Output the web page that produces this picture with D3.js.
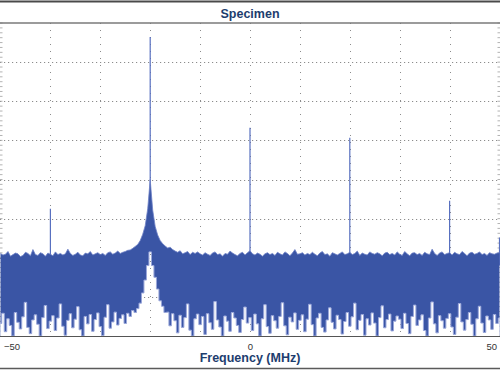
<!DOCTYPE html>
<html><head><meta charset="utf-8">
<script src="https://cdn.jsdelivr.net/npm/d3@7"></script>
<style>html,body{margin:0;padding:0;background:#fff;}svg{display:block;}</style>
</head><body>
<svg id="chart" width="500" height="370"></svg>
<script>
const titleText = "Specimen";
const xLabel = "Frequency (MHz)";
const freqStart = -50, freqStep = 0.5;
const xTicks = [-50, 0, 50];
const xGrid = [-40, -30, -20, -10, 0, 10, 20, 30, 40];
const yGrid = [-10, -20, -30, -40, -50, -60, -70];
// max-hold envelope (dB), one value per 0.5 MHz from -50 to 50
const maxEnv = [
-58.9,-59.3,-59.1,-58.4,-59.6,-59.2,-58.8,-59.0,-59.7,-59.4,-58.6,-58.9,-59.5,-57.9,-59.2,-59.4,-58.7,-59.0,-59.6,-58.8,
-59.1,-59.5,-58.5,-59.2,-58.9,-59.3,-59.0,-57.8,-58.9,-59.4,-59.1,-58.6,-59.3,-59.5,-58.8,-59.0,-58.4,-59.3,-59.0,-58.7,
-59.2,-58.9,-59.4,-58.7,-58.5,-59.1,-58.8,-58.3,-58.9,-58.6,-58.4,-58.1,-58.0,-57.6,-57.1,-56.6,-55.6,-54.0,-51.8,-47.5,
-40.0,-47.8,-52.0,-54.2,-55.6,-56.4,-57.0,-57.5,-57.3,-57.9,-58.3,-58.6,-58.2,-59.0,-58.7,-58.4,-59.2,-58.6,-58.9,-58.5,
-59.0,-59.3,-58.7,-59.1,-59.4,-58.8,-58.5,-59.2,-59.0,-59.6,-58.9,-59.1,-58.3,-58.8,-59.2,-59.5,-58.9,-58.6,-59.3,-58.7,
-58.2,-59.0,-59.3,-58.8,-59.1,-59.6,-59.0,-58.7,-59.2,-58.9,-59.4,-58.6,-59.0,-59.3,-58.5,-58.9,-59.5,-58.8,-57.9,-59.1,
-59.0,-58.7,-59.3,-58.9,-59.2,-58.6,-59.1,-59.5,-58.8,-58.4,-59.2,-59.0,-59.6,-58.7,-59.0,-59.3,-58.9,-58.5,-59.2,-59.0,
-58.6,-59.2,-58.9,-58.3,-59.4,-58.8,-59.1,-59.3,-58.5,-58.9,-59.1,-58.7,-59.0,-59.5,-58.8,-58.6,-59.2,-58.9,-59.3,-58.5,
-59.1,-59.4,-58.4,-59.0,-59.5,-58.8,-58.7,-59.2,-58.9,-59.4,-58.6,-59.0,-59.2,-57.8,-58.9,-59.4,-58.8,-58.5,-59.2,-58.9,
-58.7,-59.3,-58.6,-59.0,-59.2,-58.4,-58.9,-59.5,-58.8,-58.6,-59.1,-58.9,-58.5,-59.2,-58.9,-59.4,-58.7,-59.0,-59.1,-58.8,-58.7
];
// min-hold envelope (dB), same grid
const minEnv = [
-76.8,-74.2,-78.9,-75.6,-77.3,-80.0,-74.0,-76.5,-78.2,-75.1,-71.4,-77.8,-79.4,-75.9,-74.6,-77.0,-80.0,-75.3,-72.2,-78.1,
-76.2,-74.8,-78.6,-75.4,-71.8,-77.5,-79.8,-76.0,-74.3,-77.9,-75.7,-72.5,-78.4,-80.0,-75.0,-76.9,-74.5,-78.8,-75.8,-74.1,
-77.6,-79.9,-75.2,-72.0,-78.0,-76.4,-73.9,-77.2,-75.5,-74.6,-76.8,-74.2,-75.0,-73.5,-74.0,-73.0,-71.6,-69.0,-65.7,-62.0,
-58.5,-62.0,-65.0,-68.0,-71.0,-72.4,-74.0,-73.9,-77.4,-74.3,-76.1,-79.2,-74.7,-77.8,-75.3,-71.8,-78.5,-80.0,-75.6,-74.4,
-77.1,-75.0,-79.6,-74.3,-76.6,-78.3,-71.2,-75.9,-77.7,-80.0,-74.9,-76.2,-78.8,-74.0,-75.4,-77.3,-79.1,-75.8,-72.6,-76.7,
-75.3,-78.6,-74.4,-76.9,-80.0,-75.6,-72.0,-77.6,-79.3,-74.8,-76.1,-78.0,-75.0,-71.5,-77.4,-79.7,-75.2,-76.4,-74.1,-78.3,
-76.0,-74.6,-78.9,-75.7,-71.9,-77.1,-80.0,-75.4,-74.2,-77.8,-79.0,-75.9,-72.8,-76.5,-78.2,-74.7,-75.8,-79.5,-76.3,-74.0,
-77.5,-75.1,-71.6,-78.4,-76.0,-74.5,-79.8,-75.6,-77.2,-74.1,-76.7,-80.0,-75.3,-72.3,-77.9,-75.8,-74.4,-78.7,-76.2,-74.9,
-75.7,-78.1,-74.2,-76.8,-79.4,-75.0,-72.1,-77.3,-75.9,-74.6,-78.6,-80.0,-75.4,-71.3,-76.9,-79.2,-74.8,-76.1,-78.0,-75.5,
-74.3,-77.7,-79.6,-75.2,-71.7,-76.4,-78.5,-75.8,-74.0,-77.0,-80.0,-75.6,-72.4,-76.7,-79.1,-74.9,-75.9,-78.3,-74.5,-76.8,-75.4
];
// discrete tones
const toneFreqs = [-40, -20, 0, 20, 40, 50];
const toneLevels = [-47.5, -3.6, -26.8, -29.3, -45.4, -54.8];

const data = maxEnv.map((v, i) => ({f: freqStart + i * freqStep, hi: v, lo: minEnv[i]}));
const tones = toneFreqs.map((f, i) => ({f, db: toneLevels[i]}));

const svg = d3.select("#chart");
const W = 500, plotTop = 23, plotBottom = 336;
const x = d3.scaleLinear().domain([-50, 50]).range([0.5, 499.5]);
const y = d3.scaleLinear().domain([-80, 0]).range([plotBottom, plotTop]);
const FONT = "'Liberation Sans', Arial, sans-serif";

// frame lines
svg.append("line").attr("x1",0).attr("x2",W).attr("y1",1.5).attr("y2",1.5).attr("stroke","#4a4a4a").attr("stroke-width",2);
svg.append("line").attr("x1",0).attr("x2",W).attr("y1",368.5).attr("y2",368.5).attr("stroke","#5a5a5a").attr("stroke-width",1.5);

// title
svg.append("text").attr("x",250).attr("y",17.5).attr("text-anchor","middle")
  .attr("font-family",FONT).attr("font-weight","bold")
  .attr("font-size","12.5px").attr("fill","#1d3d6e").text(titleText);

function drawGrid(sel) {
  sel.selectAll(".hg").data(yGrid).join("line").attr("class","hg")
    .attr("x1",0).attr("x2",W).attr("y1",d=>Math.round(y(d))+0.5).attr("y2",d=>Math.round(y(d))+0.5)
    .attr("stroke","#8c8c8c").attr("stroke-width",1).attr("stroke-dasharray","1.2,2.8");
  sel.selectAll(".vg").data(xGrid).join("line").attr("class","vg")
    .attr("x1",d=>Math.round(x(d))+0.5).attr("x2",d=>Math.round(x(d))+0.5).attr("y1",plotTop).attr("y2",plotBottom)
    .attr("stroke","#8c8c8c").attr("stroke-width",1).attr("stroke-dasharray","1,6");
}
const g = svg.append("g");
drawGrid(g);
// minor ticks on left/right edges
const minor = d3.range(0, 65).map(i => -80 + i * 1.25);
g.selectAll(".ml").data(minor).join("line")
  .attr("x1",0).attr("x2",2.5).attr("y1",d=>y(d)).attr("y2",d=>y(d)).attr("stroke","#a0a0a0").attr("stroke-width",0.8);
g.selectAll(".mr").data(minor).join("line")
  .attr("x1",W-2.5).attr("x2",W).attr("y1",d=>y(d)).attr("y2",d=>y(d)).attr("stroke","#a0a0a0").attr("stroke-width",0.8);

// line under title
svg.append("line").attr("x1",0).attr("x2",W).attr("y1",plotTop).attr("y2",plotTop).attr("stroke","#7a7a7a").attr("stroke-width",1.4);

// tones
svg.selectAll(".tone").data(tones).join("line")
  .attr("x1",d=>x(d.f)).attr("x2",d=>x(d.f)).attr("y1",y(-62)).attr("y2",d=>y(d.db))
  .attr("stroke","#5870c0").attr("stroke-width",1.2);

// max envelope (filled down to axis)
const hiArea = d3.area().x(d=>x(d.f)).y0(y(-80)).y1(d=>y(d.hi));
svg.append("path").datum(data).attr("d",hiArea).attr("fill","#3a55a5");
svg.append("path").datum(data).attr("d",d3.line().x(d=>x(d.f)).y(d=>y(d.hi)))
  .attr("fill","none").attr("stroke","#6f82c6").attr("stroke-width",0.8);

// min envelope: white below it
const loArea = d3.area().curve(d3.curveStep).x(d=>x(d.f)).y0(y(-80)).y1(d=>y(d.lo));
svg.append("clipPath").attr("id","lowclip").append("path").datum(data).attr("d",loArea);
svg.append("path").datum(data).attr("d",loArea).attr("fill","#ffffff");
drawGrid(svg.append("g").attr("clip-path","url(#lowclip)"));
svg.append("path").datum(data).attr("d",d3.line().curve(d3.curveStep).x(d=>x(d.f)).y(d=>y(d.lo)))
  .attr("fill","none").attr("stroke","#9aa7da").attr("stroke-width",1);

// x axis
svg.append("line").attr("x1",0).attr("x2",W).attr("y1",plotBottom+0.5).attr("y2",plotBottom+0.5).attr("stroke","#555").attr("stroke-width",1);
const ax = svg.append("g").attr("transform",`translate(0,${plotBottom})`)
  .call(d3.axisBottom(x).tickValues(xTicks).tickSize(0).tickPadding(7).tickFormat(d => d < 0 ? "\u2212" + Math.abs(d) : String(d)));
ax.select(".domain").remove();
ax.selectAll("text").attr("font-family",FONT).attr("font-size","9.5px").attr("fill","#333")
  .attr("text-anchor", d => d === -50 ? "start" : d === 50 ? "end" : "middle")
  .attr("dx", d => d === -50 ? 3 : d === 50 ? -3 : 0);

svg.append("text").attr("x",250).attr("y",361.5).attr("text-anchor","middle")
  .attr("font-family",FONT).attr("font-weight","bold")
  .attr("font-size","12.5px").attr("fill","#1d3d6e").text(xLabel);
</script>
</body></html>
